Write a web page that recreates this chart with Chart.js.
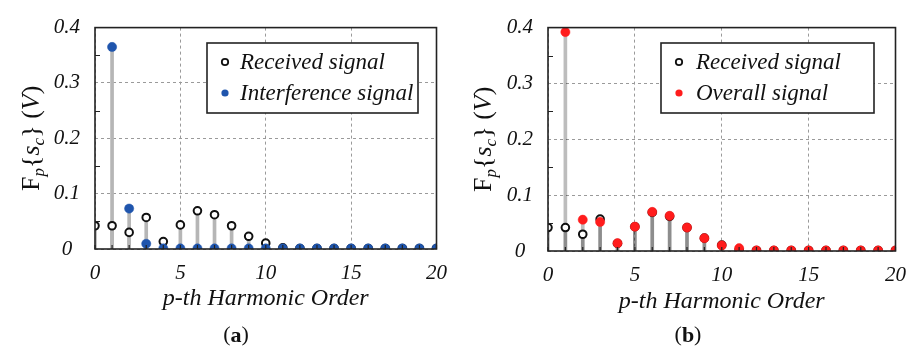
<!DOCTYPE html>
<html><head><meta charset="utf-8">
<script src="https://cdn.jsdelivr.net/npm/chart.js@4/dist/chart.umd.min.js"></script>
<style>
body{margin:0;background:#fff;width:918px;height:349px;overflow:hidden;position:relative}
canvas{position:absolute;top:0}
#ca{left:0}
#cb{left:459px}
.pre{position:absolute;left:-999px;top:0;font-family:"Liberation Serif";}
</style></head><body>
<span class="pre" style="font-style:italic">0.4 Received</span><span class="pre" style="font-weight:bold">a</span><span class="pre">F</span>
<canvas id="ca" width="459" height="349"></canvas>
<canvas id="cb" width="459" height="349"></canvas>
<script>
// ---- data ----
const harmonics = [0,1,2,3,4,5,6,7,8,9,10,11,12,13,14,15,16,17,18,19,20];
const xTickLabels = ['0','5','10','15','20'];
const yTickLabels = ['0','0.1','0.2','0.3','0.4'];
const received = [0.042,0.042,0.030,0.057,0.0135,0.0435,0.069,0.062,0.042,0.023,0.0106,0.002,0.001,0.001,0.001,0.001,0.001,0.001,0.001,0.001,0.001];
const interference = [null,0.365,0.073,0.0094,0.001,0.001,0.001,0.001,0.001,0.001,0.001,0.001,0.001,0.001,0.001,0.001,0.001,0.001,0.001,0.001,0.001];
const overall = [null,0.392,0.056,0.052,0.014,0.0436,0.070,0.063,0.042,0.023,0.010,0.005,0.001,0.001,0.001,0.001,0.001,0.001,0.001,0.001,0.001];
const labelsA = ['Received signal','Interference signal'];
const labelsB = ['Received signal','Overall signal'];
const yMinor = [0.05,0.15,0.25,0.35];

const SERIF = '"Liberation Serif"';
const pts = arr => arr.map((v,i)=>({x:harmonics[i], y:v}));

function drawYTitle(ctx, cx, cy){
  const big = 26, small = 17;
  const parts = [
    {t:'F', f:`${big}px ${SERIF}`, dy:0},
    {t:'p', f:`italic ${small}px ${SERIF}`, dy:5},
    {t:'{', f:`${big}px ${SERIF}`, dy:0},
    {t:'s', f:`italic ${big}px ${SERIF}`, dy:0},
    {t:'c', f:`italic ${small}px ${SERIF}`, dy:5},
    {t:'}', f:`${big}px ${SERIF}`, dy:0},
    {t:' (', f:`${big}px ${SERIF}`, dy:0},
    {t:'V', f:`italic ${big}px ${SERIF}`, dy:0},
    {t:')', f:`${big}px ${SERIF}`, dy:0}
  ];
  ctx.save();
  ctx.translate(cx, cy);
  ctx.rotate(-Math.PI/2);
  let w = 0;
  parts.forEach(p=>{ctx.font=p.f; p.w=ctx.measureText(p.t).width; w+=p.w;});
  let x = -w/2;
  ctx.fillStyle='#111';
  ctx.textBaseline='alphabetic';
  parts.forEach(p=>{ctx.font=p.f; ctx.fillText(p.t, x, 8.5+p.dy); x+=p.w;});
  ctx.restore();
}

const decor = {
  id:'decor',
  afterDraw(chart, args, o){
    const {ctx, chartArea:a, scales:{x,y}} = chart;
    ctx.save();
    ctx.strokeStyle='#222';
    ctx.lineWidth=1.2;
    ctx.beginPath();
    yMinor.forEach(v=>{const py=Math.round(y.getPixelForValue(v))+0.5; ctx.moveTo(a.left,py); ctx.lineTo(a.left+5,py);});
    harmonics.forEach(h=>{const px=x.getPixelForValue(h); ctx.moveTo(px,a.bottom); ctx.lineTo(px,a.bottom-4);});
    ctx.stroke();
    ctx.lineWidth=1.6;
    ctx.strokeStyle='#222';
    ctx.strokeRect(a.left,a.top,a.right-a.left,a.bottom-a.top);
    const L=o.legend;
    ctx.fillStyle='#fff';
    ctx.fillRect(L.x,L.y,L.w,L.h);
    ctx.lineWidth=1.6;
    ctx.strokeRect(L.x,L.y,L.w,L.h);
    ctx.font=`italic 23px ${SERIF}`;
    ctx.textBaseline='middle';
    ctx.textAlign='left';
    o.labels.forEach((lab,i)=>{
      const cy=L.y+19+i*31;
      ctx.beginPath();
      if(i===0){ctx.arc(L.mx,cy,3.2,0,Math.PI*2); ctx.lineWidth=1.8; ctx.strokeStyle='#111'; ctx.stroke();}
      else {ctx.arc(L.mx,cy,3.6,0,Math.PI*2); ctx.fillStyle=o.color; ctx.fill();}
      ctx.fillStyle='#111';
      ctx.fillText(lab, L.tx, cy+1);
    });
    drawYTitle(ctx, o.ytx, (a.top+a.bottom)/2);
    ctx.textBaseline='middle';
    ctx.fillStyle='#111';
    ctx.font=`22px ${SERIF}`;
    const w1=ctx.measureText('(').width, w3=ctx.measureText(')').width;
    ctx.font=`bold 22px ${SERIF}`;
    const w2=ctx.measureText(o.cap).width;
    let cx=o.capX-(w1+w2+w3)/2;
    ctx.font=`22px ${SERIF}`; ctx.fillText('(',cx,335); cx+=w1;
    ctx.font=`bold 22px ${SERIF}`; ctx.fillText(o.cap,cx,336); cx+=w2;
    ctx.font=`22px ${SERIF}`; ctx.fillText(')',cx,335);
    ctx.restore();
  }
};

function makeChart(id, second, color, labels, geo){
  const stemColor = geo.stem;
  new Chart(document.getElementById(id), {
    type:'scatter',
    data:{datasets:[
      {type:'scatter', data:pts(second), pointRadius:4.6, pointBackgroundColor:color, pointBorderColor:color, pointBorderWidth:0.5, clip:0, order:1},
      {type:'scatter', data:pts(received), pointRadius:3.8, pointBackgroundColor:'#fff', pointBorderColor:'#111', pointBorderWidth:2, clip:0, order:2},
      {type:'bar', data:pts(second), backgroundColor:stemColor, barThickness:3, grouped:false, order:10},
      {type:'bar', data:pts(received), backgroundColor:stemColor, barThickness:3, grouped:false, order:11}
    ]},
    options:{
      responsive:false, animation:false, devicePixelRatio:1,
      layout:{padding:{left:0,right:geo.padR,top:geo.top,bottom:0}},
      plugins:{legend:{display:false}, tooltip:{enabled:false},
        decor:{legend:geo.legend, labels, color, ytx:geo.ytx, cap:geo.cap, capX:geo.capX}},
      scales:{
        x:{type:'linear', min:0, max:20, offset:false,
          afterFit:s=>{s.height=geo.xh;},
          ticks:{stepSize:5, padding:12, color:'#111', font:{family:SERIF, style:'italic', size:21},
            callback:(v)=>{const i=[0,5,10,15,20].indexOf(v); return i>=0?xTickLabels[i]:'';}},
          grid:{color:'#9a9a9a', lineWidth:1, drawTicks:false, offset:false},
          border:{display:false, dash:[3,3]},
          title:{display:true, text:'p-th Harmonic Order', color:'#111', font:{family:SERIF, style:'italic', size:24}, padding:{top:0,bottom:geo.tpad}}
        },
        y:{min:0, max:0.4,
          afterFit:s=>{s.width=geo.yw;},
          ticks:{stepSize:0.1, padding:15, crossAlign:'center', color:'#111', font:{family:SERIF, style:'italic', size:21},
            callback:(v)=>{const i=Math.round(v*10); return Math.abs(v*10-i)<1e-6?yTickLabels[i]:'';}},
          grid:{color:'#9a9a9a', lineWidth:1, drawTicks:false},
          border:{display:false, dash:[3,3]}
        }
      }
    },
    plugins:[decor]
  });
}

function build(){
  makeChart('ca', interference, '#1f55ad', labelsA,
    {padR:15, top:22, xh:100, yw:95, tpad:36, stem:'#b6b6b6',
     legend:{x:207,y:43,w:211,h:70,mx:225,tx:240}, ytx:30, cap:'a', capX:236});
  makeChart('cb', overall, '#ff1c1c', labelsB,
    {padR:17, top:20, xh:98, yw:89, tpad:33, stem:'rgba(0,0,0,0.26)',
     legend:{x:202,y:43,w:213,h:70,mx:220,tx:237}, ytx:23, cap:'b', capX:229});
}
Promise.all([
  document.fonts.load('italic 21px "Liberation Serif"'),
  document.fonts.load('21px "Liberation Serif"'),
  document.fonts.load('bold 21px "Liberation Serif"')
]).then(build, build);
</script>
</body></html>
